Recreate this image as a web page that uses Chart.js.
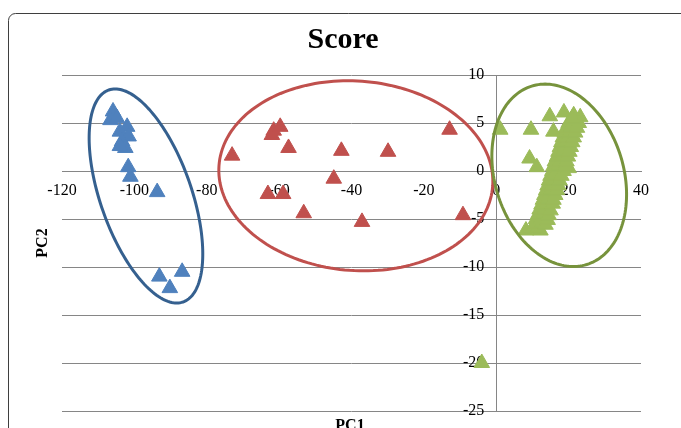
<!DOCTYPE html>
<html>
<head>
<meta charset="utf-8">
<title>Score</title>
<script src="https://cdn.jsdelivr.net/npm/chart.js@4.4.1/dist/chart.umd.min.js"></script>
<style>
  html, body { margin: 0; padding: 0; background: #fff; }
</style>
</head>
<body>
<canvas id="chart" width="681" height="428"></canvas>
<script>
// PC1 / PC2 scores
const bluePoints = [
  [-105.9, 6.2], [-106.6, 5.3], [-104.8, 5.5], [-102.0, 4.6], [-104.0, 4.1],
  [-101.6, 3.6], [-103.4, 3.1], [-102.5, 2.4], [-104.0, 2.6], [-101.7, 0.4],
  [-101.1, -0.6], [-93.7, -2.2], [-93.1, -11.0], [-90.2, -12.2], [-86.8, -10.5]
];
const redPoints = [
  [-73.0, 1.6], [-62.0, 3.75], [-61.5, 4.2], [-59.7, 4.6], [-57.4, 2.4],
  [-42.8, 2.1], [-29.9, 2.0], [-12.9, 4.3], [-44.9, -0.8], [-63.1, -2.4],
  [-58.9, -2.4], [-53.2, -4.4], [-37.1, -5.3], [-9.2, -4.6]
];
const greenPoints = [
  [1.1, 4.3], [9.6, 4.3], [9.2, 1.3], [11.2, 0.4], [14.8, 5.7], [15.8, 4.1],
  [18.7, 6.1], [21.4, 5.8], [23.2, 5.6], [8.2, -6.2], [12.2, -6.2], [-4.0, -20.0],
  [10.0, -6.0], [11.5, -5.9], [10.8, -5.5], [12.6, -5.4], [13.6, -5.6],
  [11.0, -5.0], [12.4, -4.9], [14.2, -5.1], [11.6, -4.5], [13.2, -4.4], [14.5, -4.6],
  [12.0, -4.0], [13.5, -3.9], [15.0, -4.1], [12.5, -3.5], [14.0, -3.4], [15.6, -3.4],
  [12.9, -3.0], [14.4, -2.9], [15.8, -3.0], [13.3, -2.5], [14.8, -2.4], [16.3, -2.5],
  [13.8, -2.0], [15.3, -1.9], [16.8, -2.0], [14.2, -1.5], [15.6, -1.4], [17.2, -1.5],
  [14.6, -1.0], [16.1, -0.9], [17.5, -1.0], [15.0, -0.5], [16.5, -0.4], [18.0, -0.5],
  [15.5, 0.0], [17.0, 0.1], [18.6, 0.0], [20.0, 0.3], [15.8, 0.5], [17.4, 0.6], [19.0, 0.5],
  [16.2, 1.0], [17.8, 1.1], [19.4, 1.0], [16.8, 1.5], [18.2, 1.6], [19.8, 1.5],
  [17.2, 2.0], [18.7, 2.1], [20.2, 2.0], [17.6, 2.5], [19.1, 2.6], [20.6, 2.5],
  [18.0, 3.0], [19.5, 3.1], [21.0, 3.0], [18.4, 3.5], [19.9, 3.6], [21.4, 3.5],
  [18.9, 4.0], [20.3, 4.1], [21.8, 4.0], [19.4, 4.5], [20.8, 4.6], [22.3, 4.5],
  [20.0, 5.0], [21.4, 5.1], [22.8, 5.0], [21.0, 5.5]
];

// group outlines in data units: centre plus two conjugate half-diameters
const groupOutlines = [
  { color: '#35608F', cx: -96.8, cy: -2.6, ax: -8.5, ay: 11.15, bx: 13.2, by: 0 },
  { color: '#C0504D', cx: -38.8, cy: -0.5, ax: -2.2, ay: 9.9, bx: 37.8, by: 0 },
  { color: '#77933C', cx: 17.4, cy: -0.45, ax: -3.9, ay: 9.5, bx: 18.2, by: 0 }
];

const serif = "'Liberation Serif', 'Times New Roman', serif";
const toXY = arr => arr.map(p => ({ x: p[0], y: p[1] }));

const decor = {
  id: 'decor',
  beforeDraw(chart) {
    const ctx = chart.ctx;
    ctx.save();
    ctx.fillStyle = '#fff';
    ctx.fillRect(0, 0, chart.width, chart.height);
    ctx.strokeStyle = '#3f3f3f';
    ctx.lineWidth = 1;
    ctx.beginPath();
    ctx.roundRect(8.5, 13.5, 720, 460, 7);
    ctx.stroke();
    ctx.restore();
  },
  afterDatasetsDraw(chart) {
    const ctx = chart.ctx;
    const xs = chart.scales.x, ys = chart.scales.y;
    ctx.save();
    ctx.lineWidth = 3;
    groupOutlines.forEach(e => {
      ctx.strokeStyle = e.color;
      ctx.beginPath();
      for (let i = 0; i <= 180; i++) {
        const t = i / 180 * Math.PI * 2;
        const px = xs.getPixelForValue(e.cx + e.ax * Math.cos(t) + e.bx * Math.sin(t));
        const py = ys.getPixelForValue(e.cy + e.ay * Math.cos(t) + e.by * Math.sin(t));
        if (i === 0) ctx.moveTo(px, py); else ctx.lineTo(px, py);
      }
      ctx.closePath();
      ctx.stroke();
    });
    ctx.restore();
  },
  afterDraw(chart) {
    const ctx = chart.ctx;
    ctx.save();
    ctx.fillStyle = '#000';
    ctx.textAlign = 'center';
    ctx.textBaseline = 'middle';
    ctx.font = 'bold 30px ' + serif;
    ctx.fillText('Score', 343, 40);
    ctx.font = 'bold 16px ' + serif;
    ctx.textBaseline = 'top';
    ctx.fillText('PC1', 350, 418);
    ctx.translate(43, 243);
    ctx.rotate(-Math.PI / 2);
    ctx.textBaseline = 'middle';
    ctx.fillText('PC2', 0, 0);
    ctx.restore();
  }
};

const tickFont = { family: serif, size: 16 };

new Chart(document.getElementById('chart').getContext('2d'), {
  type: 'scatter',
  data: {
    datasets: [
      { label: 'blue', data: toXY(bluePoints), backgroundColor: '#4F81BD', borderColor: '#4F81BD' },
      { label: 'red', data: toXY(redPoints), backgroundColor: '#C0504D', borderColor: '#C0504D' },
      { label: 'green', data: toXY(greenPoints), backgroundColor: '#9BBB59', borderColor: '#9BBB59' }
    ]
  },
  options: {
    responsive: false,
    animation: false,
    layout: { padding: { left: 62, right: 40, top: 75, bottom: 17 } },
    elements: { point: { pointStyle: 'triangle', radius: 9, borderWidth: 1, hoverRadius: 9 } },
    plugins: { legend: { display: false }, tooltip: { enabled: false } },
    scales: {
      x: {
        type: 'linear',
        position: { y: 0 },
        min: -120, max: 40,
        afterFit: s => { s.height = 0; },
        ticks: { stepSize: 20, font: tickFont, color: '#000', padding: 2, maxRotation: 0 },
        grid: { display: false },
        border: { color: '#868686', width: 1 }
      },
      y: {
        type: 'linear',
        position: { x: 0 },
        min: -25, max: 10,
        afterFit: s => { s.width = 0; },
        // labels sit right-aligned on the axis line; trailing spaces give the gap
        ticks: { stepSize: 5, font: tickFont, color: '#000', callback: v => v + '   ' },
        grid: { color: '#868686', lineWidth: 1, drawTicks: false },
        border: { color: '#868686', width: 1 }
      }
    }
  },
  plugins: [decor]
});
</script>
</body>
</html>
